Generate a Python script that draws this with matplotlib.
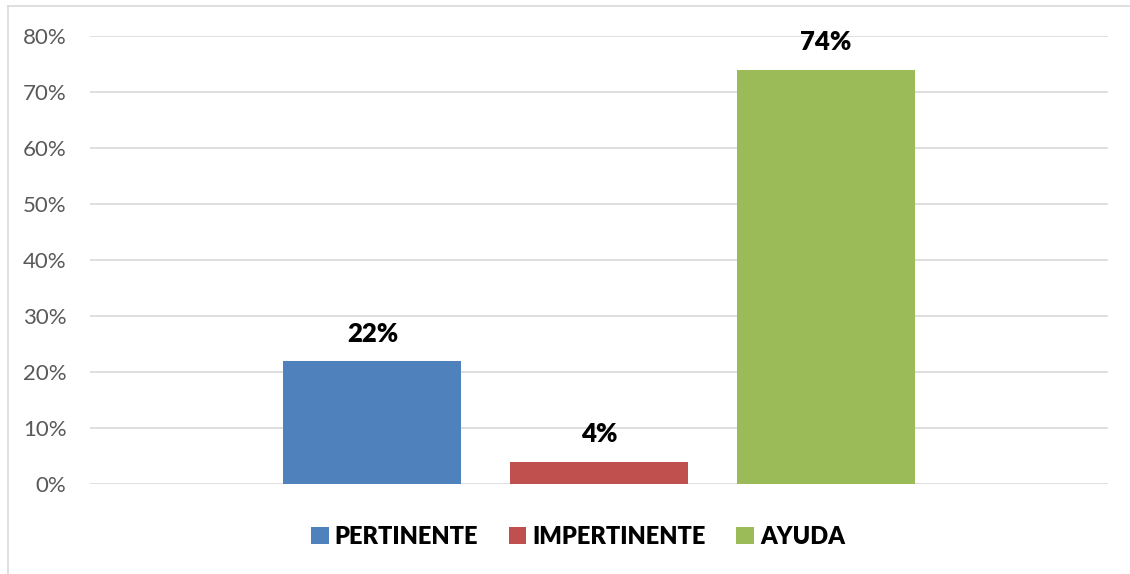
import matplotlib.pyplot as plt
from matplotlib.lines import Line2D

# Datos del gráfico
series = ["PERTINENTE", "IMPERTINENTE", "AYUDA"]
valores = [0.22, 0.04, 0.74]
etiquetas = ["22%", "4%", "74%"]
colores = ["#4f81bd", "#c0504d", "#9bbb59"]
ticks_y = [0, 0.1, 0.2, 0.3, 0.4, 0.5, 0.6, 0.7, 0.8]
ticks_txt = ["0%", "10%", "20%", "30%", "40%", "50%", "60%", "70%", "80%"]

plt.rcParams['font.family'] = ['Lato', 'DejaVu Sans']

fig = plt.figure(figsize=(11.3, 5.74), dpi=100)
ax = fig.add_axes([90 / 1130, 1 - 484 / 574, 1018 / 1130, 448 / 574])

# Borde del área del gráfico
fig.add_artist(Line2D([8 / 1130, 8 / 1130], [0, 1 - 6 / 574], transform=fig.transFigure,
                      color="#d9d9d9", lw=1.2))
fig.add_artist(Line2D([8 / 1130, 1], [1 - 6 / 574, 1 - 6 / 574], transform=fig.transFigure,
                      color="#d9d9d9", lw=1.2))

pos = [-1, 0, 1]
ancho = 0.786
barras = []
for x, v, c, s, e in zip(pos, valores, colores, series, etiquetas):
    b = ax.bar(x, v, width=ancho, color=c, label=s, zorder=3)
    barras.append(b)
    ax.annotate(e, (x, v), xytext=(0, 11), textcoords="offset points",
                ha="center", va="bottom", fontsize=18.5, fontweight="heavy", color="black")

ax.set_xlim(-2.247, 2.247)
ax.set_ylim(0, 0.8)
ax.set_yticks(ticks_y)
ax.set_yticklabels(ticks_txt, fontsize=16, color="#595959")
ax.set_xticks([])
ax.tick_params(axis="y", length=0, pad=17)
ax.grid(axis="y", color="#d9d9d9", lw=1.2, zorder=0)
for sp in ax.spines.values():
    sp.set_visible(False)

fig.legend(handles=[b for b in barras], labels=series, loc="center",
           bbox_to_anchor=(578 / 1130, 1 - 537 / 574), ncol=3, frameon=False,
           prop={"size": 17, "weight": "heavy"}, handlelength=0.75, handleheight=0.75,
           handletextpad=0.25, columnspacing=1.3)

plt.savefig("out.png", dpi=100)
